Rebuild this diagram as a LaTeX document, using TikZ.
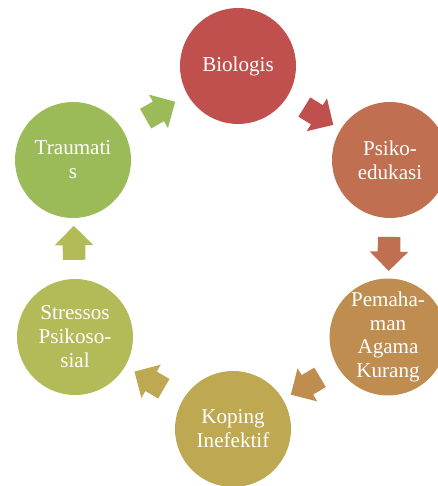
\documentclass[tikz,border=0pt]{standalone}
\usepackage{fontspec}
\setmainfont{Liberation Serif}
\usetikzlibrary{shapes.arrows}
\definecolor{c1}{HTML}{C0504D}
\definecolor{c2}{HTML}{C06F50}
\definecolor{c3}{HTML}{BF8D50}
\definecolor{c4}{HTML}{BEA952}
\definecolor{c5}{HTML}{B3BA58}
\definecolor{c6}{HTML}{9BBB59}
\begin{document}
\begin{tikzpicture}
  [every node/.style={circle,minimum size=2.9cm,inner sep=0pt,text=white,align=center,font=\fontsize{15}{17}\selectfont},
   blok/.style={single arrow,minimum width=0pt,minimum height=0.85cm,inner ysep=0.275cm,
     single arrow head extend=0.2cm,sloped,allow upside down},
   every edge/.style={draw=none}]
  \useasboundingbox (0,0) rectangle (10.95,12.15);
  \node[fill=c1] (n1) at (5.95,10.5) {Biologis};
  \node[fill=c2] (n2) at (9.75,8.15) {Psiko-\\edukasi};
  \node[fill=c3] (n3) at (9.7,3.725) {Pemaha-\\man\\Agama\\Kurang};
  \node[fill=c4] (n4) at (5.825,1.425) {Koping\\Inefektif};
  \node[fill=c5] (n5) at (1.875,3.725) {Stressos\\Psikoso-\\sial};
  \node[fill=c6] (n6) at (1.825,8.15) {Traumati\\s};
 \path
        (n1) edge node[blok,fill=c1] {} (n2)
        (n2) edge node[blok,fill=c2] {} (n3)
        (n3) edge node[blok,fill=c3] {} (n4)
        (n4) edge node[blok,fill=c4] {} (n5)
        (n5) edge node[blok,fill=c5] {} (n6)
        (n6) edge node[blok,fill=c6] {} (n1);

\end{tikzpicture}
\end{document}
